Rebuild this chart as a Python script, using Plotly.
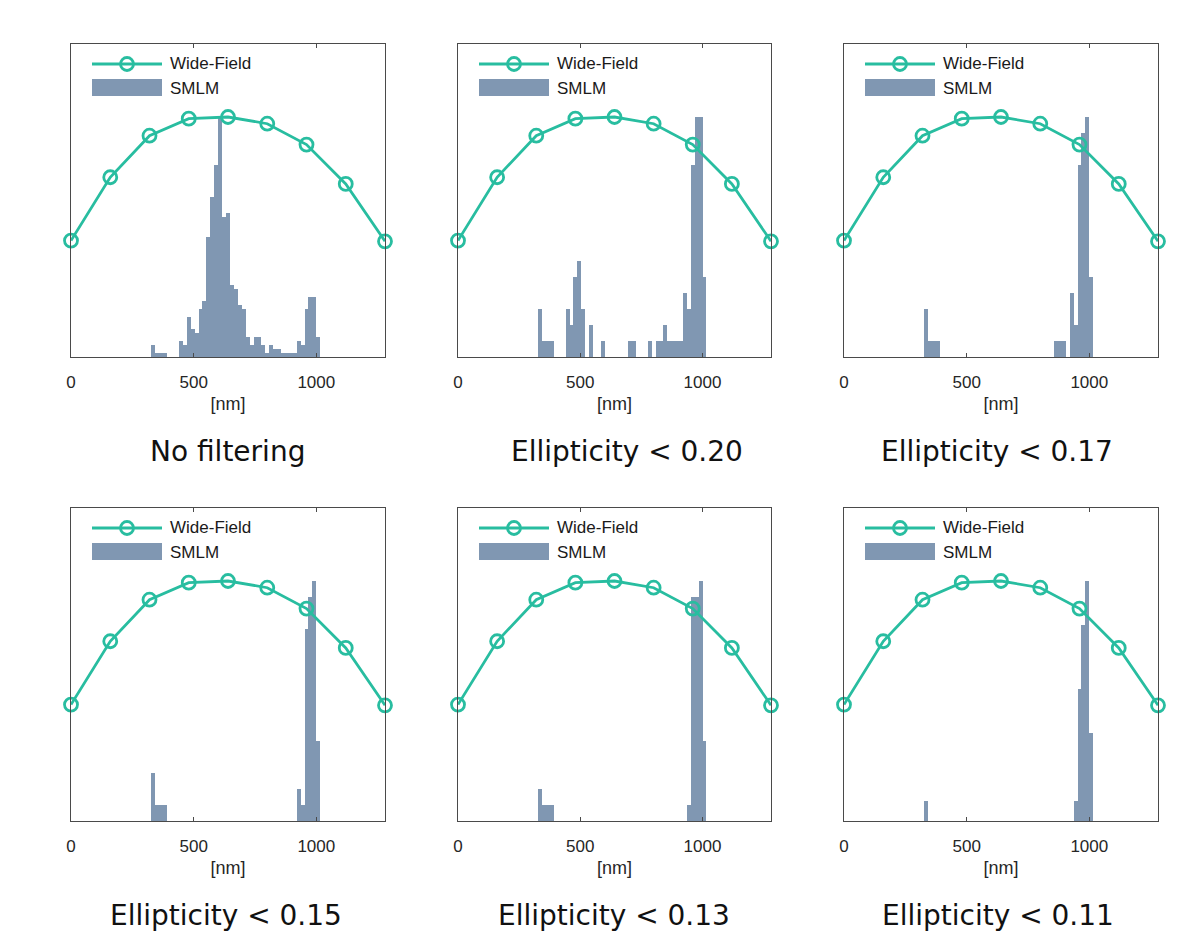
import plotly.graph_objects as go

# ---------------- data ----------------
wf_x = [0, 160, 320, 480, 640, 800, 960, 1120, 1280]
wf_y = [0.485, 0.749, 0.922, 0.993, 1.0, 0.972, 0.885, 0.721, 0.482]

# SMLM histogram bins (16 nm bins, centres)
bin_centers = list(range(336, 1017, 16))

counts_nofilter = [3, 1, 1, 1, 0, 0, 0, 4, 3, 10,
                   7, 6, 12, 14, 30, 40, 48, 60, 35, 36,
                   18, 17, 13, 12, 5, 3, 5, 5, 3, 1,
                   3, 2, 2, 1, 1, 1, 1, 4, 3, 12,
                   15, 15, 5]
counts_020 = [12, 4, 4, 4, 0, 0, 0, 12, 8, 20,
              24, 12, 0, 8, 0, 0, 4, 0, 0, 0,
              0, 0, 0, 4, 4, 0, 0, 0, 4, 0,
              4, 4, 8, 4, 4, 4, 4, 16, 12, 48,
              60, 60, 20]
counts_017 = [12, 4, 4, 4, 0, 0, 0, 0, 0, 0,
              0, 0, 0, 0, 0, 0, 0, 0, 0, 0,
              0, 0, 0, 0, 0, 0, 0, 0, 0, 0,
              0, 0, 0, 4, 4, 4, 0, 16, 8, 48,
              56, 60, 20]
counts_015 = [12, 4, 4, 4, 0, 0, 0, 0, 0, 0,
              0, 0, 0, 0, 0, 0, 0, 0, 0, 0,
              0, 0, 0, 0, 0, 0, 0, 0, 0, 0,
              0, 0, 0, 0, 0, 0, 0, 8, 4, 48,
              56, 60, 20]
counts_013 = [8, 4, 4, 4, 0, 0, 0, 0, 0, 0,
              0, 0, 0, 0, 0, 0, 0, 0, 0, 0,
              0, 0, 0, 0, 0, 0, 0, 0, 0, 0,
              0, 0, 0, 0, 0, 0, 0, 0, 4, 56,
              56, 60, 20]
counts_011 = [5, 0, 0, 0, 0, 0, 0, 0, 0, 0,
              0, 0, 0, 0, 0, 0, 0, 0, 0, 0,
              0, 0, 0, 0, 0, 0, 0, 0, 0, 0,
              0, 0, 0, 0, 0, 0, 0, 0, 5, 33,
              49, 60, 22]

panel_titles = ["No filtering", "Ellipticity < 0.20", "Ellipticity < 0.17",
                "Ellipticity < 0.15", "Ellipticity < 0.13", "Ellipticity < 0.11"]
panel_counts = [counts_nofilter, counts_020, counts_017,
                counts_015, counts_013, counts_011]

tick_vals = [0, 500, 1000]
tick_text = ["0", "500", "1000"]

# ---------------- style ----------------
TEAL = "rgb(40,189,160)"
BAR = "rgb(128,151,178)"
FRAME = "#4a4a4a"
W, H = 1186, 933

# panel frames in pixels (left, right), (top, bottom)
cols_px = [(71, 385), (458, 771), (844, 1158)]
rows_px = [(44, 357), (508, 821)]
title_y_px = [451, 915]
title_x_px = [227, 627, 997, 226, 614, 998]

YTOP = 313 / 240.0

fig = go.Figure()
layout = dict(
    template="none",
    width=W, height=H, margin=dict(l=0, r=0, t=0, b=0, autoexpand=False),
    paper_bgcolor="white", plot_bgcolor="white",
    showlegend=False, bargap=0,
)
shapes = []
annotations = []

wf_max = max(wf_y)
for i in range(6):
    r, c = divmod(i, 3)
    n = i + 1
    xs = "x" if n == 1 else f"x{n}"
    ys = "y" if n == 1 else f"y{n}"
    counts = panel_counts[i]
    cmax = max(counts)
    scaled = [v / cmax * wf_max for v in counts]

    fig.add_trace(go.Bar(
        x=bin_centers, y=scaled, width=16,
        marker=dict(color=BAR, line=dict(width=0)),
        xaxis=xs, yaxis=ys, name="SMLM"))
    fig.add_trace(go.Scatter(
        x=wf_x, y=wf_y, mode="lines+markers",
        line=dict(color=TEAL, width=2.8),
        marker=dict(symbol="circle-open", size=13, color=TEAL,
                    line=dict(width=2.8, color=TEAL)),
        xaxis=xs, yaxis=ys, name="Wide-Field", cliponaxis=False))

    (l, rr), (t, b) = cols_px[c], rows_px[r]
    xd = [l / W, rr / W]
    yd = [(H - b) / H, (H - t) / H]
    xkey = "xaxis" if n == 1 else f"xaxis{n}"
    ykey = "yaxis" if n == 1 else f"yaxis{n}"
    layout[xkey] = dict(
        domain=xd, range=[0, 1280], anchor=ys, automargin=False,
        tickmode="array", tickvals=tick_vals, ticktext=tick_text,
        ticks="inside", ticklen=4, tickwidth=1.2, tickcolor=FRAME,
        showline=True, linecolor=FRAME, linewidth=1.4, mirror="ticks",
        showgrid=False, zeroline=False,
        tickfont=dict(family="Arial, Liberation Sans", size=17, color="#262626"),
        ticklabelstandoff=9,
        title=dict(text="[nm]", standoff=6,
                   font=dict(family="Arial, Liberation Sans", size=18, color="#262626")),
    )
    layout[ykey] = dict(
        domain=yd, range=[0, YTOP], anchor=xs, automargin=False,
        showline=True, linecolor=FRAME, linewidth=1.4, mirror=True,
        ticks="", showticklabels=False, showgrid=False, zeroline=False,
    )

    # manual legend (inside top-left)
    xr = f"{xs} domain"
    yr = f"{ys} domain"
    pw, ph = rr - l, b - t
    lx0, lx1 = 21 / pw, 91 / pw
    ly = 1 - 20 / ph
    shapes.append(dict(type="line", xref=xr, yref=yr, x0=lx0, x1=lx1, y0=ly, y1=ly,
                       line=dict(color=TEAL, width=2.8)))
    shapes.append(dict(type="circle", xref=xr, yref=yr,
                       xsizemode="pixel", ysizemode="pixel",
                       xanchor=(lx0 + lx1) / 2, yanchor=ly,
                       x0=-6.5, x1=6.5, y0=-6.5, y1=6.5,
                       line=dict(color=TEAL, width=2.8), fillcolor="rgba(0,0,0,0)"))
    shapes.append(dict(type="rect", xref=xr, yref=yr, x0=lx0, x1=lx1,
                       y0=1 - 52 / ph, y1=1 - 35 / ph,
                       fillcolor=BAR, line=dict(width=0)))
    annotations.append(dict(text="Wide-Field", xref=xr, yref=yr, x=97 / pw, y=ly,
                            xanchor="left", yanchor="middle", showarrow=False,
                            font=dict(family="Arial, Liberation Sans", size=17, color="#1a1a1a")))
    annotations.append(dict(text="SMLM", xref=xr, yref=yr, x=97 / pw, y=1 - 44 / ph,
                            xanchor="left", yanchor="middle", showarrow=False,
                            font=dict(family="Arial, Liberation Sans", size=17, color="#1a1a1a")))
    # panel caption
    annotations.append(dict(text=panel_titles[i], xref="paper", yref="paper",
                            x=title_x_px[i] / W, y=(H - title_y_px[r]) / H,
                            xanchor="center", yanchor="middle", showarrow=False,
                            font=dict(family="DejaVu Sans", size=28, color="#111111")))

layout["shapes"] = shapes
layout["annotations"] = annotations
fig.update_layout(**layout)

fig.write_html("out.html", config={"displayModeBar": False},
               post_script="document.body.style.margin='0';document.body.style.overflow='hidden';")
